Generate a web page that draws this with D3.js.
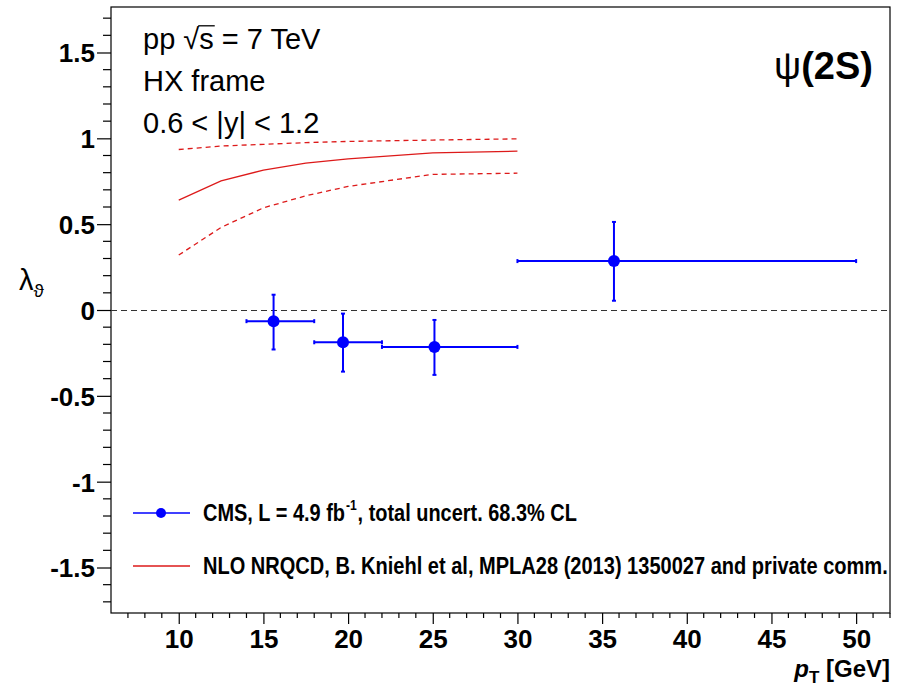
<!DOCTYPE html>
<html>
<head>
<meta charset="utf-8">
<script src="https://cdn.jsdelivr.net/npm/d3@7"></script>
<style>
  html, body { margin: 0; padding: 0; background: #fff; }
  svg { display: block; font-family: "Liberation Sans", Arial, Helvetica, sans-serif; }
</style>
</head>
<body>
<svg id="chart" width="898" height="688"></svg>
<script>
// CMS psi(2S) polarization, lambda_theta vs pT, HX frame, 0.6 < |y| < 1.2
const ptCenter = [15.6, 19.7, 25.1, 35.7];
const ptLow    = [14, 18, 22, 30];
const ptHigh   = [18, 22, 30, 50];
const lambdaTheta = [-0.065, -0.188, -0.215, 0.285];
const errUp   = [0.154, 0.167, 0.157, 0.228];
const errDown = [0.165, 0.171, 0.163, 0.231];

// NLO NRQCD prediction: central value and uncertainty band edges
const ptTheory      = [10, 12.5, 15, 17.5, 20, 25, 30];
const theoryCentral = [0.640, 0.752, 0.815, 0.855, 0.880, 0.915, 0.925];
const theoryUpper   = [0.935, 0.955, 0.965, 0.975, 0.982, 0.990, 0.997];
const theoryLower   = [0.320, 0.481, 0.595, 0.665, 0.720, 0.790, 0.797];

const xMajorTicks = [10, 15, 20, 25, 30, 35, 40, 45, 50];
const yMajorTicks = [-1.5, -1, -0.5, 0, 0.5, 1, 1.5];

const svg = d3.select("#chart");
const frame = { left: 111, right: 890, top: 7, bottom: 613 };

const x = d3.scaleLinear().domain([6, 52]).range([frame.left, frame.right]);
const y = d3.scaleLinear().domain([-1.765, 1.765]).range([frame.bottom, frame.top]);

const blue = "#0000ff";
const red = "#dd1a1a";

// frame
svg.append("rect")
  .attr("x", frame.left).attr("y", frame.top)
  .attr("width", frame.right - frame.left).attr("height", frame.bottom - frame.top)
  .attr("fill", "none").attr("stroke", "#000").attr("stroke-width", 1.2);

// y axis (ticks outward on the left)
const yMinor = d3.range(-17, 18).map(d => d / 10).filter(v => !yMajorTicks.some(m => Math.abs(m - v) < 1e-9));
const yAxis = d3.axisLeft(y).tickValues(yMajorTicks).tickSize(14).tickPadding(2)
  .tickFormat(d => String(d));
const gy = svg.append("g").attr("transform", `translate(${frame.left},0)`).call(yAxis);
gy.select(".domain").remove();
gy.selectAll("line").attr("stroke", "#000").attr("stroke-width", 1.2);
gy.selectAll("text").attr("font-size", 26).attr("font-weight", "bold").attr("fill", "#000")
  .attr("dy", "0.36em");
svg.append("g").selectAll("line").data(yMinor).join("line")
  .attr("x1", frame.left - 8).attr("x2", frame.left)
  .attr("y1", d => y(d)).attr("y2", d => y(d))
  .attr("stroke", "#000").attr("stroke-width", 1.2);

// x axis (ticks outward below)
const xMinor = d3.range(7, 53).filter(v => !xMajorTicks.includes(v));
const xAxis = d3.axisBottom(x).tickValues(xMajorTicks).tickSize(11);
const gx = svg.append("g").attr("transform", `translate(0,${frame.bottom})`).call(xAxis);
gx.select(".domain").remove();
gx.selectAll("line").attr("stroke", "#000").attr("stroke-width", 1.2);
gx.selectAll("text").attr("font-size", 26).attr("font-weight", "bold").attr("fill", "#000")
  .attr("y", 35).attr("dy", 0);
svg.append("g").selectAll("line").data(xMinor).join("line")
  .attr("x1", d => x(d)).attr("x2", d => x(d))
  .attr("y1", frame.bottom).attr("y2", frame.bottom + 5)
  .attr("stroke", "#000").attr("stroke-width", 1.2);

// axis titles
const yt = svg.append("text").attr("x", 19).attr("y", 290).attr("font-size", 29).attr("fill", "#000");
yt.append("tspan").text("λ");
yt.append("tspan").attr("font-size", 19).attr("dy", 7).text("ϑ");

const xt = svg.append("text").attr("x", frame.right).attr("y", 677).attr("text-anchor", "end")
  .attr("font-size", 24).attr("font-weight", "bold").attr("fill", "#000");
xt.append("tspan").attr("font-style", "italic").text("p");
xt.append("tspan").attr("font-size", 17).attr("dy", 6).text("T");
xt.append("tspan").attr("dy", -6).text(" [GeV]");

// zero reference line
svg.append("line")
  .attr("x1", frame.left).attr("x2", frame.right)
  .attr("y1", y(0) + 0.5).attr("y2", y(0) + 0.5)
  .attr("stroke", "#333").attr("stroke-width", 1.2).attr("stroke-dasharray", "6,4");

// theory curves
const line = d3.line().x(d => x(d[0])).y(d => y(d[1]));
const curve = (vals, dash) => svg.append("path")
  .datum(ptTheory.map((p, i) => [p, vals[i]]))
  .attr("d", line).attr("fill", "none").attr("stroke", red).attr("stroke-width", 1.3)
  .attr("stroke-dasharray", dash);
curve(theoryUpper, "5,4");
curve(theoryLower, "5,4");
curve(theoryCentral, null);

// data points with error bars
const pts = svg.append("g").attr("stroke", blue).attr("stroke-width", 2);
ptCenter.forEach((p, i) => {
  const yc = y(lambdaTheta[i]);
  const yu = y(lambdaTheta[i] + errUp[i]);
  const yd = y(lambdaTheta[i] - errDown[i]);
  pts.append("line").attr("x1", x(ptLow[i])).attr("x2", x(ptHigh[i])).attr("y1", yc).attr("y2", yc);
  pts.append("line").attr("x1", x(p)).attr("x2", x(p)).attr("y1", yu).attr("y2", yd);
  // end caps
  pts.append("line").attr("x1", x(ptLow[i])).attr("x2", x(ptLow[i])).attr("y1", yc - 2).attr("y2", yc + 2);
  pts.append("line").attr("x1", x(ptHigh[i])).attr("x2", x(ptHigh[i])).attr("y1", yc - 2).attr("y2", yc + 2);
  pts.append("line").attr("x1", x(p) - 2).attr("x2", x(p) + 2).attr("y1", yu).attr("y2", yu);
  pts.append("line").attr("x1", x(p) - 2).attr("x2", x(p) + 2).attr("y1", yd).attr("y2", yd);
  svg.append("circle").attr("cx", x(p)).attr("cy", yc).attr("r", 6).attr("fill", blue);
});

// info labels
const info = ["pp √s = 7 TeV", "HX frame", "0.6 < |y| < 1.2"];
const infoSize = 29;
const infoText = svg.append("g").selectAll("text").data(info).join("text")
  .attr("x", 143).attr("y", (d, i) => [49, 91, 133][i])
  .attr("font-size", infoSize).attr("fill", "#000").text(d => d);
// overline of the square root over "s"
const first = infoText.nodes()[0];
const sStart = 143 + first.getSubStringLength(0, 4);
const sEnd = 143 + first.getSubStringLength(0, 5);
svg.append("line").attr("x1", sStart - 1).attr("x2", sEnd + 1)
  .attr("y1", 49 - infoSize * 0.8).attr("y2", 49 - infoSize * 0.8)
  .attr("stroke", "#000").attr("stroke-width", 1.3);

const psi = svg.append("text").attr("x", 873).attr("y", 79).attr("text-anchor", "end")
  .attr("font-size", 38).attr("fill", "#000");
psi.append("tspan").text("ψ");
psi.append("tspan").attr("font-weight", "bold").text("(2S)");

// legend: entries are laid out at natural width, then squeezed horizontally
const leg = svg.append("g");
const legSize = 23;
function squeeze(g, x0, targetWidth) {
  const w = g.node().getBBox().width;
  g.attr("transform", `translate(${x0},0) scale(${targetWidth / w},1)`);
}

leg.append("line").attr("x1", 133).attr("x2", 190).attr("y1", 513).attr("y2", 513)
  .attr("stroke", blue).attr("stroke-width", 1.3);
leg.append("circle").attr("cx", 161).attr("cy", 513).attr("r", 5).attr("fill", blue);
const e1 = leg.append("g").attr("font-weight", "bold").attr("fill", "#000");
const a = e1.append("text").attr("x", 0).attr("y", 521).attr("font-size", legSize).text("CMS, L = 4.9 fb");
const aw = a.node().getComputedTextLength();
const b = e1.append("text").attr("x", aw + 1).attr("y", 510).attr("font-size", 14).text("-1");
const bw = b.node().getComputedTextLength();
e1.append("text").attr("x", aw + bw + 2).attr("y", 521).attr("font-size", legSize)
  .text(", total uncert. 68.3% CL");
squeeze(e1, 203, 374);

leg.append("line").attr("x1", 133).attr("x2", 190).attr("y1", 566).attr("y2", 566)
  .attr("stroke", red).attr("stroke-width", 1.3);
const e2 = leg.append("g").attr("font-weight", "bold").attr("fill", "#000");
e2.append("text").attr("x", 0).attr("y", 574).attr("font-size", legSize)
  .text("NLO NRQCD, B. Kniehl et al, MPLA28 (2013) 1350027 and private comm.");
squeeze(e2, 203, 685);
</script>
</body>
</html>
